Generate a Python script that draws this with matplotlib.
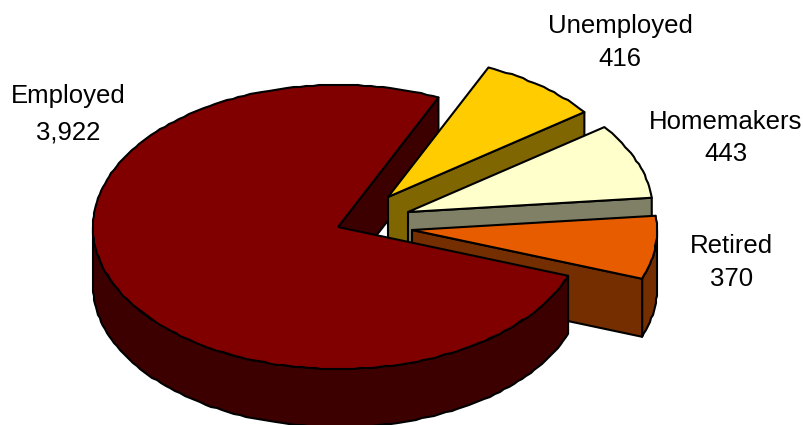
import numpy as np
import matplotlib
matplotlib.use("Agg")
import matplotlib.pyplot as plt
from matplotlib.patches import Polygon

categories = ["Unemployed", "Homemakers", "Retired", "Employed"]
values = [416, 443, 370, 3922]

top_colors = ["#FFCC00", "#FFFFCC", "#E85C00", "#800000"]
wall_colors = ["#806600", "#808066", "#742E00", "#3D0000"]
offsets = [(50, -30), (70, -15), (74, 3), (0, 0)]
label_pos = [(620, 42.5), (726, 138), (731.5, 262.5), (68, 114.5)]
label_space = [1.47, 1.47, 1.47, 1.65]

W, H = 804, 425
CX, CY, RX, RY, DEPTH = 338, 227, 245, 142, 58
START = 65.8

plt.rcParams["font.family"] = ["Liberation Sans", "DejaVu Sans"]
fig = plt.figure(figsize=(W / 100, H / 100), dpi=100)
ax = fig.add_axes([0, 0, 1, 1])
ax.set_xlim(0, W)
ax.set_ylim(H, 0)
ax.axis("off")

spans = np.array(values) / sum(values) * 360
ends = START - np.cumsum(spans)
starts = ends + spans


def arc(cx, cy, a0, a1):
    # short chords snapped to a pixel grid give the slightly stepped outline of the original
    n = max(2, int(abs(a1 - a0) / 1.5) + 1)
    t = np.radians(np.linspace(a0, a1, n))
    pts = np.column_stack([cx + RX * np.cos(t), cy - RY * np.sin(t)])
    pts[1:-1] = np.round(pts[1:-1])
    return pts


def point(cx, cy, a):
    t = np.radians(a)
    return np.array([cx + RX * np.cos(t), cy - RY * np.sin(t)])


def poly(pts, color, z):
    ax.add_patch(Polygon(pts, closed=True, facecolor=color, edgecolor="black",
                         linewidth=1.5, joinstyle="round", zorder=z))


def edge_wall(cx, cy, a, color, z):
    p = point(cx, cy, a)
    poly([(cx, cy), p, (p[0], p[1] + DEPTH), (cx, cy + DEPTH)], color, z)


def outer_wall(cx, cy, a0, a1, color, z):
    upper = arc(cx, cy, a0, a1)
    lower = upper[::-1] + [0, DEPTH]
    poly(np.vstack([upper, lower]), color, z)


# Employed: its inner wall sits behind the exploded slices
e = 3
ex, ey = CX + offsets[e][0], CY + offsets[e][1]
edge_wall(ex, ey, ends[e], wall_colors[e], 1)

for i in range(3):
    cx, cy = CX + offsets[i][0], CY + offsets[i][1]
    z = 2 + i * 2
    if ends[i] < 0 < starts[i]:
        outer_wall(cx, cy, 0, ends[i], wall_colors[i], z)
    edge_wall(cx, cy, ends[i], wall_colors[i], z)
    poly(np.vstack([[(cx, cy)], arc(cx, cy, starts[i], ends[i])]), top_colors[i], z + 1)

outer_wall(ex, ey, starts[e], -180, wall_colors[e], 10)
poly(np.vstack([[(ex, ey)], arc(ex, ey, starts[e], ends[e])]), top_colors[e], 11)

for name, val, (lx, ly), sp in zip(categories, values, label_pos, label_space):
    ax.text(lx, ly, f"{name}\n{val:,}", ha="center", va="center", fontsize=18.5,
            linespacing=sp, color="black", zorder=20)

fig.savefig("out.png", dpi=100)
